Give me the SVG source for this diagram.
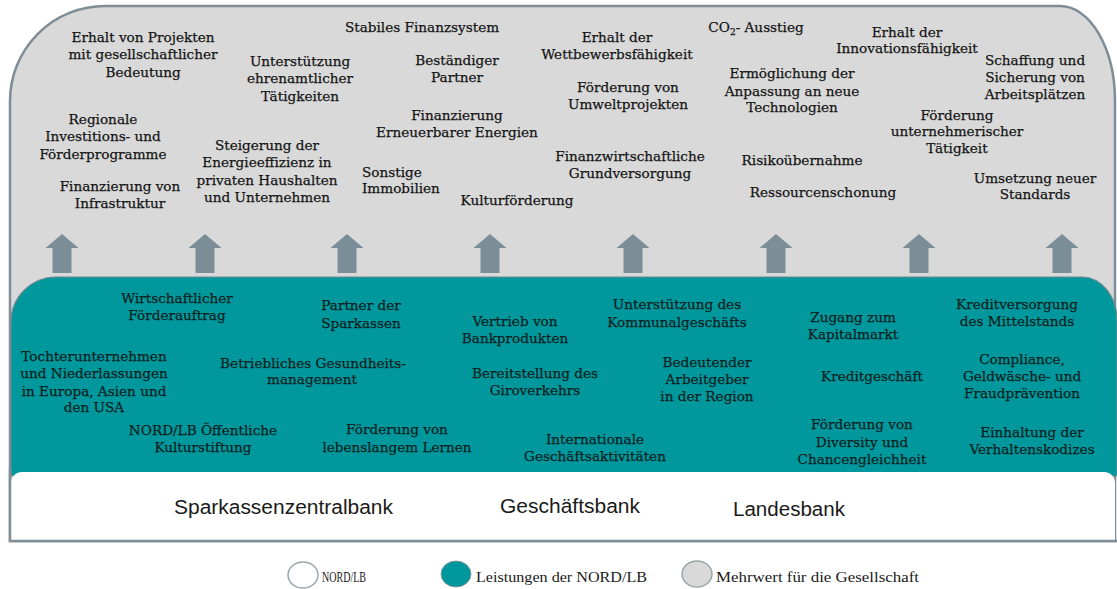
<svg xmlns="http://www.w3.org/2000/svg" width="1117" height="589" viewBox="0 0 1117 589">
<style>
  .lbl{font-family:"DejaVu Serif","Liberation Serif",serif;font-size:13.6px;fill:#141414;stroke:#141414;stroke-width:0.25;text-anchor:middle}
  .tl{font-family:"DejaVu Serif","Liberation Serif",serif;font-size:13.6px;fill:#0b1e1e;stroke:#0b1e1e;stroke-width:0.25;text-anchor:middle}
  .bank{font-family:"Liberation Sans",Arial,sans-serif;font-size:20px;fill:#1a1a1a}
  .leg{font-family:"Liberation Serif","DejaVu Serif",serif;font-size:15px;fill:#1a1a1a}
  .arrow{fill:#7b8e97}
</style>
<defs>
  <path id="arr" d="M-16.5,14 L0,0 L16.5,14 H9.5 V39 H-9.5 V14 Z"/>
</defs>
<rect width="1117" height="589" fill="#ffffff"/>

<g id="gesellschaft">
  <path d="M10,541 V101 A95,95 0 0 1 105,6 H1060 A55,95 0 0 1 1115,101 V541 Z" fill="#d9d9d9" stroke="#7f8d96" stroke-width="2.5"/>
</g>

<g id="leistungen">
  <path d="M11,476 V322 A45,45 0 0 1 56,277 H1082 A35,43 0 0 1 1117,320 V476 Z" fill="#00989c" stroke="#6f8a90" stroke-width="1.2"/>
</g>

<g id="nordlb">
  <path d="M11,541 V483 A11,11 0 0 1 22,472 H1104 A11,11 0 0 1 1115,483 V541 Z" fill="#ffffff"/>
  <path d="M10,470 V541 H1117" fill="none" stroke="#7f8d96" stroke-width="2.5"/>
</g>

<g id="connectors">
  <use href="#arr" class="arrow" x="62" y="234"/>
  <use href="#arr" class="arrow" x="205" y="234"/>
  <use href="#arr" class="arrow" x="347" y="234"/>
  <use href="#arr" class="arrow" x="490" y="234"/>
  <use href="#arr" class="arrow" x="633" y="234"/>
  <use href="#arr" class="arrow" x="776" y="234"/>
  <use href="#arr" class="arrow" x="919" y="234"/>
  <use href="#arr" class="arrow" x="1062" y="234"/>
</g>

<!-- Mehrwert für die Gesellschaft -->
<g id="g-projekte"><text class="lbl"><tspan x="143" y="42">Erhalt von Projekten</tspan><tspan x="143" y="59">mit gesellschaftlicher</tspan><tspan x="143" y="77">Bedeutung</tspan></text></g>
<g id="g-regional"><text class="lbl"><tspan x="103" y="124">Regionale</tspan><tspan x="103" y="141">Investitions- und</tspan><tspan x="103" y="159">Förderprogramme</tspan></text></g>
<g id="g-infrastruktur"><text class="lbl"><tspan x="120" y="191">Finanzierung von</tspan><tspan x="120" y="208">Infrastruktur</tspan></text></g>
<g id="g-ehrenamt"><text class="lbl"><tspan x="300" y="66">Unterstützung</tspan><tspan x="300" y="83">ehrenamtlicher</tspan><tspan x="300" y="101">Tätigkeiten</tspan></text></g>
<g id="g-energieeffizienz"><text class="lbl"><tspan x="267" y="150">Steigerung der</tspan><tspan x="267" y="167">Energieeffizienz in</tspan><tspan x="267" y="185">privaten Haushalten</tspan><tspan x="267" y="202">und Unternehmen</tspan></text></g>
<g id="g-finanzsystem"><text class="lbl" x="422" y="32">Stabiles Finanzsystem</text></g>
<g id="g-partner"><text class="lbl"><tspan x="457" y="65">Beständiger</tspan><tspan x="457" y="82">Partner</tspan></text></g>
<g id="g-erneuerbare"><text class="lbl"><tspan x="457" y="120">Finanzierung</tspan><tspan x="457" y="137">Erneuerbarer Energien</tspan></text></g>
<g id="g-immobilien"><text class="lbl" style="text-anchor:start"><tspan x="362" y="177">Sonstige</tspan><tspan x="362" y="193">Immobilien</tspan></text></g>
<g id="g-kultur"><text class="lbl" x="517" y="205">Kulturförderung</text></g>
<g id="g-wettbewerb"><text class="lbl"><tspan x="617" y="42">Erhalt der</tspan><tspan x="617" y="59">Wettbewerbsfähigkeit</tspan></text></g>
<g id="g-umwelt"><text class="lbl"><tspan x="628" y="92">Förderung von</tspan><tspan x="628" y="109">Umweltprojekten</tspan></text></g>
<g id="g-grundversorgung"><text class="lbl"><tspan x="630" y="161">Finanzwirtschaftliche</tspan><tspan x="630" y="178">Grundversorgung</tspan></text></g>
<g id="g-co2"><text class="lbl" x="756" y="32">CO<tspan font-size="9" dy="3">2</tspan><tspan dy="-3">- Ausstieg</tspan></text></g>
<g id="g-innovation"><text class="lbl"><tspan x="907" y="37">Erhalt der</tspan><tspan x="907" y="53">Innovationsfähigkeit</tspan></text></g>
<g id="g-technologien"><text class="lbl"><tspan x="792" y="78">Ermöglichung der</tspan><tspan x="792" y="96">Anpassung an neue</tspan><tspan x="792" y="112">Technologien</tspan></text></g>
<g id="g-arbeitsplaetze"><text class="lbl"><tspan x="1035" y="65">Schaffung und</tspan><tspan x="1035" y="82">Sicherung von</tspan><tspan x="1035" y="99">Arbeitsplätzen</tspan></text></g>
<g id="g-unternehmer"><text class="lbl"><tspan x="957" y="120">Förderung</tspan><tspan x="957" y="136">unternehmerischer</tspan><tspan x="957" y="153">Tätigkeit</tspan></text></g>
<g id="g-risiko"><text class="lbl" x="802" y="165">Risikoübernahme</text></g>
<g id="g-ressourcen"><text class="lbl" x="823" y="197">Ressourcenschonung</text></g>
<g id="g-standards"><text class="lbl"><tspan x="1035" y="183">Umsetzung neuer</tspan><tspan x="1035" y="199">Standards</tspan></text></g>

<!-- Leistungen der NORD/LB -->
<g id="l-foerderauftrag"><text class="tl"><tspan x="177" y="303">Wirtschaftlicher</tspan><tspan x="177" y="320">Förderauftrag</tspan></text></g>
<g id="l-tochter"><text class="tl"><tspan x="94" y="361">Tochterunternehmen</tspan><tspan x="94" y="378">und Niederlassungen</tspan><tspan x="94" y="396">in Europa, Asien und</tspan><tspan x="94" y="412">den USA</tspan></text></g>
<g id="l-gesundheit"><text class="tl"><tspan x="313" y="368">Betriebliches Gesundheits-</tspan><tspan x="312" y="384">management</tspan></text></g>
<g id="l-kulturstiftung"><text class="tl"><tspan x="203" y="435">NORD/LB Öffentliche</tspan><tspan x="203" y="452">Kulturstiftung</tspan></text></g>
<g id="l-sparkassen"><text class="tl"><tspan x="361" y="310">Partner der</tspan><tspan x="361" y="328">Sparkassen</tspan></text></g>
<g id="l-lernen"><text class="tl"><tspan x="397" y="434">Förderung von</tspan><tspan x="397" y="452">lebenslangem Lernen</tspan></text></g>
<g id="l-vertrieb"><text class="tl"><tspan x="515" y="326">Vertrieb von</tspan><tspan x="515" y="343">Bankprodukten</tspan></text></g>
<g id="l-giro"><text class="tl"><tspan x="535" y="378">Bereitstellung des</tspan><tspan x="535" y="395">Giroverkehrs</tspan></text></g>
<g id="l-international"><text class="tl"><tspan x="595" y="444">Internationale</tspan><tspan x="595" y="461">Geschäftsaktivitäten</tspan></text></g>
<g id="l-kommunal"><text class="tl"><tspan x="677" y="309">Unterstützung des</tspan><tspan x="677" y="327">Kommunalgeschäfts</tspan></text></g>
<g id="l-arbeitgeber"><text class="tl"><tspan x="707" y="367">Bedeutender</tspan><tspan x="707" y="384">Arbeitgeber</tspan><tspan x="707" y="401">in der Region</tspan></text></g>
<g id="l-kapitalmarkt"><text class="tl"><tspan x="853" y="322">Zugang zum</tspan><tspan x="853" y="339">Kapitalmarkt</tspan></text></g>
<g id="l-kredit"><text class="tl" x="872" y="381">Kreditgeschäft</text></g>
<g id="l-diversity"><text class="tl"><tspan x="862" y="429">Förderung von</tspan><tspan x="862" y="447">Diversity und</tspan><tspan x="862" y="464">Chancengleichheit</tspan></text></g>
<g id="l-mittelstand"><text class="tl"><tspan x="1017" y="309">Kreditversorgung</tspan><tspan x="1017" y="326">des Mittelstands</tspan></text></g>
<g id="l-compliance"><text class="tl"><tspan x="1022" y="364">Compliance,</tspan><tspan x="1022" y="381">Geldwäsche- und</tspan><tspan x="1022" y="398">Fraudprävention</tspan></text></g>
<g id="l-kodizes"><text class="tl"><tspan x="1032" y="437">Einhaltung der</tspan><tspan x="1032" y="454">Verhaltenskodizes</tspan></text></g>

<!-- NORD/LB -->
<g id="n-sparkassenzentralbank"><text class="bank" x="174" y="514" textLength="219" lengthAdjust="spacingAndGlyphs">Sparkassenzentralbank</text></g>
<g id="n-geschaeftsbank"><text class="bank" x="500" y="513" textLength="140" lengthAdjust="spacingAndGlyphs">Geschäftsbank</text></g>
<g id="n-landesbank"><text class="bank" x="733" y="516" textLength="112" lengthAdjust="spacingAndGlyphs">Landesbank</text></g>

<!-- Legend -->
<g id="legend">
  <ellipse cx="303" cy="575" rx="15" ry="13" fill="#ffffff" stroke="#9aa5ab" stroke-width="1.5"/>
  <text class="leg" x="322" y="582" textLength="44" lengthAdjust="spacingAndGlyphs">NORD/LB</text>
  <ellipse cx="456" cy="574" rx="15" ry="13" fill="#00989c" stroke="#7f9a9c" stroke-width="1"/>
  <text class="leg" x="476" y="582" textLength="171" lengthAdjust="spacingAndGlyphs">Leistungen der NORD/LB</text>
  <ellipse cx="697" cy="574" rx="15" ry="13" fill="#d9d9d9" stroke="#9aa5ab" stroke-width="1.5"/>
  <text class="leg" x="716" y="582" textLength="203" lengthAdjust="spacingAndGlyphs">Mehrwert für die Gesellschaft</text>
</g>
</svg>
